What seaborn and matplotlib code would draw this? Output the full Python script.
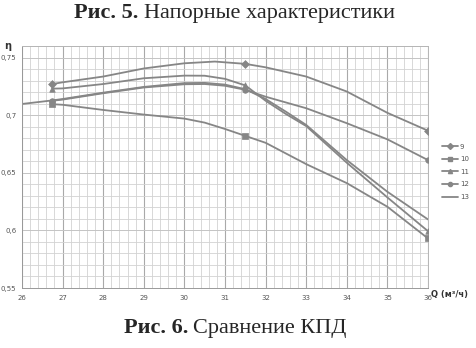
import matplotlib
matplotlib.use('Agg')
import matplotlib.pyplot as plt
from matplotlib.lines import Line2D
from matplotlib.ticker import MultipleLocator, FuncFormatter
import seaborn as sns

sns.set_style('white')

# curves (Q, eta)
q9 = [26.75, 27, 28, 29, 30, 30.75, 31.5, 32, 33, 34, 35, 36]
eta9 = [0.727, 0.7285, 0.7335, 0.7405, 0.745, 0.7465, 0.7445, 0.7415, 0.7335, 0.7205, 0.702, 0.6865]

q10 = [26.75, 27, 28, 29, 30, 30.5, 31, 31.5, 32, 33, 34, 35, 36]
eta10 = [0.7095, 0.709, 0.7045, 0.7005, 0.697, 0.6935, 0.688, 0.682, 0.676, 0.6575, 0.641, 0.6205, 0.593]

q11 = [26.75, 27, 28, 29, 30, 30.5, 31, 31.5, 32, 32.5, 33, 34, 35, 36]
eta11 = [0.723, 0.7232, 0.727, 0.732, 0.7343, 0.7342, 0.7315, 0.7258, 0.7125, 0.701, 0.6905, 0.6587, 0.6286, 0.5993]

q12 = [26.75, 27, 28, 29, 30, 30.5, 31, 31.5, 32, 33, 34, 35, 36]
eta12 = [0.7125, 0.7135, 0.719, 0.724, 0.7268, 0.727, 0.7255, 0.722, 0.716, 0.706, 0.693, 0.679, 0.661]

q13 = [26, 26.75, 27, 28, 29, 30, 30.5, 31, 31.5, 32, 32.5, 33, 34, 35, 36]
eta13 = [0.7097, 0.7128, 0.714, 0.7195, 0.7245, 0.7278, 0.728, 0.7265, 0.7225, 0.714, 0.703, 0.6915, 0.661, 0.6335, 0.6095]

# measured points (markers)
q_pts = [26.75, 31.5, 36]
pts9 = [0.727, 0.7445, 0.6865]
pts10 = [0.7095, 0.682, 0.593]
pts11 = [0.723, 0.7258, 0.5993]
pts12 = [0.7125, 0.722, 0.661]

names = ['9', '10', '11', '12', '13']

curves = [(q9, eta9), (q10, eta10), (q11, eta11), (q12, eta12), (q13, eta13)]
points = [pts9, pts10, pts11, pts12, None]
markers = ['D', 's', '^', 'o', None]

gray = '#868686'

fig = plt.figure(figsize=(4.76, 3.48), dpi=100)
ax = fig.add_axes([22 / 476, 1 - 288 / 348, 406 / 476, 242 / 348])

for (q, eta), pts, mk in zip(curves, points, markers):
    sns.lineplot(x=q, y=eta, ax=ax, color=gray, linewidth=1.3,
                 estimator=None, sort=False)
    if pts is not None:
        sns.scatterplot(x=q_pts, y=pts, ax=ax, marker=mk, color=gray,
                        s=16, edgecolor=gray, linewidth=0.5, zorder=3)

ax.set_xlim(26, 36)
ax.set_ylim(0.55, 0.76)
ax.xaxis.set_major_locator(MultipleLocator(1))
ax.xaxis.set_minor_locator(MultipleLocator(0.2))
ax.yaxis.set_major_locator(MultipleLocator(0.05))
ax.yaxis.set_minor_locator(MultipleLocator(0.01))
ax.yaxis.set_major_formatter(FuncFormatter(lambda v, p: f'{round(v, 2):g}'.replace('.', ',')))
ax.set_axisbelow(True)
ax.grid(which='minor', color='#d2d2d2', linewidth=0.6)
ax.grid(which='major', axis='x', color='#a9a9a9', linewidth=0.8)
ax.grid(which='major', axis='y', color='#c4c4c4', linewidth=0.7)
ax.tick_params(which='both', length=0, labelsize=5, colors='#555555')
ax.tick_params(axis='x', pad=5)
ax.tick_params(axis='y', pad=4)
for s in ax.spines.values():
    s.set_color('#b5b5b5')
    s.set_linewidth(0.7)
ax.spines['left'].set_color('#999999')
ax.spines['bottom'].set_color('#999999')
ax.set_xlabel('')
ax.set_ylabel('')

handles = [Line2D([], [], color=gray, lw=1.3, marker=mk if mk else None,
                  markersize=3) for mk in markers]
ax.legend(handles, names, loc='center left', bbox_to_anchor=(1.02, 0.48),
          frameon=False, fontsize=5, handlelength=2.2, labelspacing=0.95,
          handletextpad=0.3, labelcolor='#555555')

fig.text(8 / 476, 1 - 46 / 348, 'η', fontsize=7, fontweight='bold',
         ha='center', va='center', color='#333333')
fig.text(431 / 476, 1 - 294 / 348, 'Q (м³/ч)', fontsize=6, fontweight='bold',
         ha='left', va='center', color='#333333')

serif = 'Liberation Serif'
fig.text(138 / 476, 1 - 18 / 348, 'Рис. 5.', family=serif, fontsize=16,
         fontweight='bold', ha='right', va='baseline')
fig.text(144 / 476, 1 - 18 / 348, 'Напорные характеристики', family=serif,
         fontsize=16, ha='left', va='baseline')
fig.text(188 / 476, 15 / 348, 'Рис. 6.', family=serif, fontsize=16,
         fontweight='bold', ha='right', va='baseline')
fig.text(193 / 476, 15 / 348, 'Сравнение КПД', family=serif, fontsize=16,
         ha='left', va='baseline')

fig.savefig('out.png', dpi=100)
